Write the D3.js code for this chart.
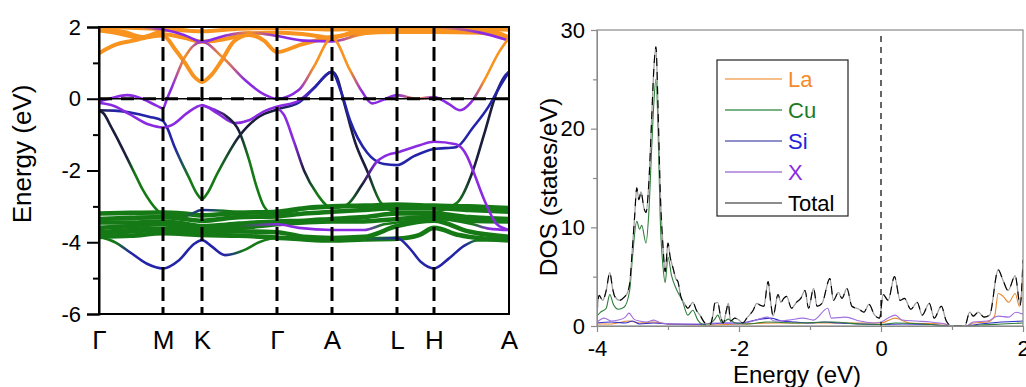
<!DOCTYPE html>
<html><head><meta charset="utf-8">
<script src="https://cdn.jsdelivr.net/npm/d3@7"></script>
<style>body{margin:0;background:#fff}svg{display:block}text{font-family:"Liberation Sans",Arial,sans-serif}</style>
</head><body><svg id="c" width="1026" height="387"></svg>
<script>
// ---------- band structure data ----------
const kPos = [0,64,103,178,233,298,335,410];
const kLabels = ['Γ','M','K','Γ','A','L','H','A'];
const eTicks = [-6,-4,-2,0,2];
const eMinor = [-5,-3,-1,1];

// La-dominated conduction bands [k, E]
const bandsLa = [
 [[0,1.27],[16,1.5],[34,1.62],[50,1.72],[64,1.76],[76,1.38],[86,1.0],[95,0.62],[103,0.47],[112,0.65],[123,1.08],[135,1.6],[150,1.78],[165,1.62],[178,1.3],[201,1.5],[233,1.72],[260,1.82],[298,1.86],[335,1.86],[380,1.84],[410,1.72]],
 [[0,1.95],[25,1.86],[45,1.72],[64,1.8],[85,1.7],[103,1.59],[125,1.66],[150,1.8],[178,1.85],[205,1.8],[233,1.7],[260,1.9],[298,1.95],[335,1.95],[390,1.9],[410,1.7]],
 [[0,2.02],[30,1.98],[64,1.94],[103,1.88],[140,1.95],[178,1.97],[233,1.93],[298,1.99],[335,1.99],[410,1.92]],
 [[0,1.9],[20,1.82],[40,1.7],[64,1.9],[103,2.05],[178,2.05],[233,2.08],[410,2.08]]
];
// Cu-d flat bands [k, E]
const bandsCu = [
 [[0,-3.2],[32,-3.18],[64,-3.17],[85,-3.2],[103,-3.25],[140,-3.18],[178,-3.15],[205,-3.05],[233,-3.0],[265,-2.98],[298,-2.95],[335,-2.98],[370,-3.0],[410,-3.05]],
 [[0,-3.35],[32,-3.32],[64,-3.3],[85,-3.35],[103,-3.4],[140,-3.3],[178,-3.28],[205,-3.2],[233,-3.15],[265,-3.1],[298,-3.05],[335,-3.05],[370,-3.1],[410,-3.15]],
 [[0,-3.45],[32,-3.45],[64,-3.42],[85,-3.48],[103,-3.55],[140,-3.48],[178,-3.42],[205,-3.4],[233,-3.35],[265,-3.3],[298,-3.2],[335,-3.2],[370,-3.3],[410,-3.35]],
 [[0,-3.6],[32,-3.55],[64,-3.5],[85,-3.6],[103,-3.65],[140,-3.6],[178,-3.5],[205,-3.45],[233,-3.42],[265,-3.42],[298,-3.35],[335,-3.3],[370,-3.4],[410,-3.42]],
 [[0,-3.75],[32,-3.7],[64,-3.65],[85,-3.7],[103,-3.72],[140,-3.7],[178,-3.72],[205,-3.85],[233,-3.88],[265,-3.85],[298,-3.55],[335,-3.4],[370,-3.7],[410,-3.85]],
 [[0,-3.85],[32,-3.82],[64,-3.75],[103,-3.8],[140,-3.82],[178,-3.87],[205,-3.92],[233,-3.95],[265,-3.92],[298,-3.9],[320,-3.8],[335,-3.6],[360,-3.8],[410,-3.95]]
];
// mixed-character bands [k, E, dominant character]
const bandsMix = [
 [[0,2.1,'o'],[40,2.0,'o'],[64,1.93,'p'],[85,1.78,'p'],[103,1.59,'p'],[125,1.75,'p'],[150,1.85,'o'],[178,1.75,'p'],[205,1.62,'p'],[233,1.6,'p'],[260,1.78,'o'],[298,1.97,'o'],[335,1.99,'o'],[380,1.85,'p'],[410,1.62,'p']],
 [[0,-0.08,'p'],[14,0.03,'p'],[28,0.1,'p'],[45,-0.02,'p'],[58,-0.2,'p'],[64,-0.27,'p'],[68,0.0,'p'],[73,0.33,'p'],[86,1.17,'o'],[103,1.59,'p'],[123,1.17,'o'],[146,0.52,'p'],[165,0.12,'p'],[178,0.0,'p'],[200,0.25,'p'],[215,0.9,'o'],[233,1.7,'o'],[251,0.8,'o'],[263,0.2,'p'],[273,-0.13,'p'],[285,-0.02,'p'],[298,0.1,'p'],[318,0.0,'o'],[335,0.05,'p'],[350,-0.15,'p'],[361,-0.32,'p'],[372,-0.1,'p'],[385,0.5,'o'],[400,1.3,'o'],[410,1.7,'o']],
 [[0,-0.32,'k'],[15,-0.33,'b'],[30,-0.38,'b'],[50,-0.5,'b'],[64,-0.62,'b'],[68,-0.8,'b'],[75,-1.3,'b'],[90,-2.2,'g'],[98,-2.65,'g'],[103,-2.8,'g'],[108,-2.65,'g'],[118,-2.1,'g'],[140,-1.05,'k'],[160,-0.5,'k'],[178,-0.3,'k'],[200,-0.1,'b'],[215,0.3,'b'],[233,0.75,'b'],[238,0.6,'k'],[245,-0.1,'k'],[256,-1.2,'k'],[268,-2.0,'k'],[282,-2.9,'g'],[298,-3.15,'g'],[335,-3.15,'g'],[358,-2.9,'g'],[374,-2.0,'k'],[385,-1.0,'k'],[398,0.2,'k'],[405,0.6,'b'],[410,0.75,'b']],
 [[0,-0.12,'p'],[15,-0.2,'p'],[30,-0.42,'p'],[50,-0.72,'p'],[64,-0.8,'p'],[75,-0.7,'p'],[88,-0.4,'p'],[103,-0.18,'p'],[118,-0.4,'p'],[136,-0.68,'p'],[150,-0.6,'p'],[165,-0.35,'p'],[178,-0.22,'p'],[200,-0.05,'p'],[215,0.3,'b'],[233,0.75,'b'],[242,0.2,'b'],[251,-0.6,'b'],[268,-1.5,'b'],[285,-1.82,'b'],[298,-1.85,'b'],[315,-1.6,'b'],[335,-1.4,'b'],[357,-1.35,'b'],[374,-0.8,'b'],[390,-0.2,'b'],[400,0.3,'b'],[410,0.75,'b']],
 [[0,-0.32,'k'],[5,-0.42,'k'],[12,-0.78,'k'],[20,-1.2,'k'],[28,-1.65,'k'],[36,-2.1,'g'],[44,-2.55,'g'],[52,-2.9,'g'],[58,-3.1,'g'],[64,-3.22,'g'],[85,-3.28,'g'],[103,-3.1,'b'],[125,-3.12,'g'],[150,-3.18,'g'],[178,-3.22,'g'],[205,-3.08,'g'],[233,-3.03,'g'],[265,-3.0,'g'],[298,-3.0,'g'],[335,-2.98,'g'],[370,-3.02,'g'],[410,-3.05,'g']],
 [[103,-0.18,'p'],[115,-0.3,'p'],[128,-0.5,'k'],[140,-0.9,'k'],[150,-1.7,'g'],[157,-2.4,'g'],[165,-3.0,'g'],[178,-3.3,'g']],
 [[178,-0.25,'p'],[185,-0.45,'p'],[195,-1.2,'p'],[205,-2.0,'k'],[218,-2.65,'g'],[233,-3.05,'g'],[248,-2.95,'g'],[263,-2.4,'k'],[278,-1.75,'p'],[290,-1.55,'p'],[298,-1.5,'p'],[320,-1.3,'p'],[335,-1.2,'p'],[357,-1.27,'p'],[368,-1.6,'p'],[374,-2.0,'p'],[385,-2.8,'p'],[398,-3.5,'p'],[410,-3.66,'p']],
 [[0,-3.7,'g'],[64,-3.6,'g'],[103,-3.62,'g'],[140,-3.55,'g'],[178,-3.5,'p'],[200,-3.6,'p'],[233,-3.66,'p'],[265,-3.66,'p'],[285,-3.5,'g'],[298,-3.45,'g'],[335,-3.35,'g'],[374,-3.5,'g'],[390,-3.62,'p'],[410,-3.66,'p']],
 [[0,-3.85,'g'],[16,-4.0,'g'],[32,-4.3,'b'],[48,-4.6,'b'],[64,-4.73,'b'],[80,-4.5,'b'],[95,-4.05,'b'],[103,-3.94,'b'],[112,-4.1,'b'],[126,-4.36,'b'],[145,-4.22,'g'],[160,-4.0,'g'],[178,-3.88,'g'],[205,-3.9,'g'],[233,-3.94,'g'],[265,-3.92,'g'],[298,-3.88,'b'],[310,-4.15,'b'],[322,-4.55,'b'],[335,-4.73,'b'],[350,-4.45,'b'],[365,-4.1,'b'],[378,-3.95,'g'],[410,-3.94,'g']]
];

// ---------- DOS data [E, states/eV] ----------
const dosYTicks = [0,10,20,30], dosYMinor = [5,15,25];
const dosXTicks = [-4,-2,0,2], dosXMinor = [-3,-1,1];
const legendNames = ['La','Cu','Si','X','Total'];
const dosTotal = [[-4.0,1.3],[-3.97,3.1],[-3.92,2.6],[-3.87,3.6],[-3.82,5.4],[-3.78,3.8],[-3.75,3.0],[-3.68,2.6],[-3.62,2.9],[-3.57,3.4],[-3.54,4.3],[-3.5,8.0],[-3.47,11.1],[-3.44,14.0],[-3.41,12.8],[-3.38,13.6],[-3.34,12.0],[-3.31,11.5],[-3.27,14.5],[-3.23,21],[-3.2,26],[-3.17,28.3],[-3.14,22],[-3.11,13.8],[-3.07,8],[-3.04,5.5],[-3.0,8.4],[-2.97,7.0],[-2.93,5.9],[-2.89,4.8],[-2.86,4.5],[-2.82,3.0],[-2.77,2.3],[-2.72,1.8],[-2.65,2.4],[-2.6,1.6],[-2.55,1.1],[-2.48,0.3],[-2.41,0.1],[-2.37,1.0],[-2.34,2.3],[-2.3,2.4],[-2.26,1.0],[-2.22,0.3],[-2.18,1.5],[-2.15,2.3],[-2.12,0.5],[-2.06,0.8],[-2.0,0.6],[-1.95,0.3],[-1.88,0.9],[-1.8,1.6],[-1.75,2.3],[-1.7,2.1],[-1.65,2.0],[-1.59,4.5],[-1.55,2.2],[-1.52,1.0],[-1.45,3.2],[-1.41,2.4],[-1.37,2.8],[-1.33,3.0],[-1.26,1.8],[-1.19,2.4],[-1.13,2.8],[-1.07,3.6],[-1.02,1.8],[-0.95,3.8],[-0.9,2.0],[-0.83,2.3],[-0.72,4.8],[-0.67,2.6],[-0.6,3.4],[-0.55,2.8],[-0.48,3.8],[-0.41,2.0],[-0.31,1.7],[-0.24,1.4],[-0.17,2.2],[-0.09,1.1],[-0.02,0.8],[0.03,3.2],[0.1,2.6],[0.19,5.0],[0.27,2.6],[0.33,2.8],[0.42,1.7],[0.51,2.4],[0.58,1.1],[0.68,2.3],[0.75,0.8],[0.85,2.0],[0.92,0.5],[1.0,0],[1.18,0],[1.25,1.4],[1.3,1.0],[1.37,1.4],[1.45,0.9],[1.53,1.1],[1.65,5.7],[1.72,4.6],[1.79,3.6],[1.89,5.1],[1.96,2.1],[2.0,6.7]];
const dosCu = [[-4.0,1.0],[-3.95,1.4],[-3.87,1.8],[-3.82,3.2],[-3.77,2.2],[-3.7,1.7],[-3.62,1.9],[-3.54,3.6],[-3.5,7.0],[-3.44,10.6],[-3.4,9.8],[-3.37,10.2],[-3.31,8.4],[-3.27,11.5],[-3.23,18],[-3.2,22.5],[-3.17,25],[-3.14,20],[-3.11,11],[-3.07,6],[-3.04,4.4],[-3.0,7.0],[-2.95,5.1],[-2.88,3.7],[-2.8,2.6],[-2.72,1.1],[-2.65,1.6],[-2.58,0.6],[-2.48,0.1],[-2.4,0.3],[-2.34,0.7],[-2.3,1.1],[-2.24,0.3],[-2.15,0.7],[-2.05,0.3],[-1.9,0.2],[-1.6,0.4],[-1.2,0.3],[-0.7,0.4],[-0.3,0.2],[0.0,0.15],[0.2,0.3],[0.6,0.2],[1.0,0.0],[1.2,0.0],[1.4,0.1],[1.7,0.2],[2.0,0.3]];
const dosX = [[-4.0,0.4],[-3.9,0.8],[-3.8,0.5],[-3.7,0.6],[-3.6,0.9],[-3.55,1.3],[-3.48,0.7],[-3.4,0.5],[-3.3,0.4],[-3.2,0.6],[-3.1,0.3],[-2.9,0.2],[-2.6,0.2],[-2.3,0.3],[-2.0,0.2],[-1.8,0.5],[-1.6,0.9],[-1.5,0.5],[-1.3,0.6],[-1.1,0.8],[-0.95,0.6],[-0.75,1.8],[-0.7,0.8],[-0.5,0.9],[-0.3,0.5],[-0.1,0.3],[0.0,0.4],[0.1,0.8],[0.2,1.1],[0.3,0.6],[0.5,0.5],[0.7,0.4],[0.9,0.2],[1.0,0],[1.2,0],[1.3,0.4],[1.5,0.5],[1.65,1.0],[1.8,0.9],[1.9,1.4],[2.0,1.2]];
const dosLa = [[-4,0.2],[-3.8,0.2],[-3.55,0.5],[-3.4,0.3],[-3.2,0.4],[-3.0,0.2],[-2.5,0.1],[-2.0,0.2],[-1.5,0.3],[-1.0,0.3],[-0.5,0.3],[0.0,0.3],[0.2,0.8],[0.4,0.3],[0.9,0.2],[1.0,0],[1.2,0],[1.3,0.3],[1.5,0.4],[1.6,1.0],[1.65,3.3],[1.72,3.0],[1.8,2.4],[1.89,3.3],[1.95,2.0],[2.0,5.0]];
const dosSi = [[-4,0.3],[-3.8,0.4],[-3.6,0.3],[-3.5,0.5],[-3.4,0.2],[-3.2,0.3],[-3.0,0.2],[-2.5,0.15],[-2.2,0.3],[-2.0,0.3],[-1.7,0.7],[-1.55,0.8],[-1.4,0.5],[-1.2,0.4],[-1.0,0.3],[-0.8,0.4],[-0.6,0.3],[-0.3,0.2],[0.0,0.15],[0.3,0.2],[0.7,0.15],[1.0,0],[1.2,0],[1.4,0.2],[1.7,0.4],[2.0,0.5]];

// ---------- drawing ----------
const svg = d3.select('#c');
const defs = svg.append('defs');
const col = {o:'#f7931e', g:'#157a15', b:'#2424a8', p:'#8a2be2', k:'#1c1c3c'};

const xB = d3.scaleLinear().domain([0,410]).range([99,509]);
const yB = d3.scaleLinear().domain([-6,2]).range([314,27]);
defs.append('clipPath').attr('id','cb').append('rect')
  .attr('x',xB(0)).attr('y',yB(2)).attr('width',xB(410)-xB(0)).attr('height',yB(-6)-yB(2));
const bLine = d3.line().x(d=>xB(d[0])).y(d=>yB(d[1])).curve(d3.curveMonotoneX);
const gB = svg.append('g').attr('clip-path','url(#cb)');
let gid = 0;
function drawBand(b, def, w){
  const id = 'bg'+(gid++);
  const lg = defs.append('linearGradient').attr('id',id).attr('gradientUnits','userSpaceOnUse')
    .attr('x1',xB(0)).attr('x2',xB(410)).attr('y1',0).attr('y2',0);
  b.forEach(p=>lg.append('stop').attr('offset',p[0]/410).attr('stop-color',col[p[2]||def]));
  gB.append('path').attr('d',bLine(b)).attr('fill','none')
    .attr('stroke',`url(#${id})`).attr('stroke-width',w).attr('stroke-linecap','round');
}
bandsCu.forEach(b=>drawBand(b,'g',4.6));
bandsLa.forEach(b=>drawBand(b,'o',4));
bandsMix.forEach(b=>drawBand(b,'p',2.6));

// high-symmetry dashed lines
svg.append('g').selectAll('line').data(kPos.slice(1,-1)).join('line')
  .attr('x1',d=>xB(d)).attr('x2',d=>xB(d)).attr('y1',yB(2)).attr('y2',yB(-6))
  .attr('stroke','#000').attr('stroke-width',3).attr('stroke-dasharray','14,6');
// Fermi level
svg.append('line').attr('x1',xB(0)).attr('x2',xB(410)).attr('y1',yB(0)).attr('y2',yB(0))
  .attr('stroke','#000').attr('stroke-width',1.3);
svg.append('line').attr('x1',xB(0)).attr('x2',xB(410)).attr('y1',yB(0)).attr('y2',yB(0))
  .attr('stroke','#000').attr('stroke-width',3).attr('stroke-dasharray','13,9');
// frame
svg.append('rect').attr('x',xB(0)).attr('y',yB(2)).attr('width',xB(410)-xB(0)).attr('height',yB(-6)-yB(2))
  .attr('fill','none').attr('stroke','#000').attr('stroke-width',2);
// y axis
const ay = svg.append('g').attr('transform',`translate(${xB(0)},0)`)
  .call(d3.axisLeft(yB).tickValues(eTicks).tickSize(12).tickPadding(6).tickFormat(d=>String(d)));
ay.select('.domain').attr('stroke-width',2);
ay.selectAll('.tick line').attr('stroke-width',2);
ay.selectAll('text').attr('font-size',22).attr('fill','#000').attr('font-family','"Liberation Sans",Arial,sans-serif');
const ay2 = svg.append('g').attr('transform',`translate(${xB(0)},0)`)
  .call(d3.axisLeft(yB).tickValues(eMinor).tickSize(6).tickFormat(''));
ay2.select('.domain').remove();
ay2.selectAll('.tick line').attr('stroke-width',2);
// k labels
const ax = svg.append('g').attr('transform',`translate(0,${yB(-6)})`)
  .call(d3.axisBottom(xB).tickValues(kPos).tickSize(0).tickPadding(17).tickFormat((d,i)=>kLabels[i]));
ax.select('.domain').remove();
ax.selectAll('text').attr('font-size',26).attr('fill','#000')
  .attr('font-family',(d,i)=>kLabels[i]==='Γ'?'"Liberation Serif","DejaVu Serif",serif':'"Liberation Sans",Arial,sans-serif');
svg.append('text').attr('transform','translate(31,154) rotate(-90)').attr('text-anchor','middle')
  .attr('font-size',26).text('Energy (eV)');

// ---------- DOS panel ----------
const xD = d3.scaleLinear().domain([-4,2]).range([597,1023]);
const yD = d3.scaleLinear().domain([0,30]).range([326,30]);
defs.append('clipPath').attr('id','cd').append('rect')
  .attr('x',xD(-4)).attr('y',yD(30)).attr('width',xD(2)-xD(-4)).attr('height',yD(0)-yD(30));
const dLine = d3.line().x(d=>xD(d[0])).y(d=>yD(d[1])).curve(d3.curveMonotoneX);
const gD = svg.append('g').attr('clip-path','url(#cd)');
const dosSeries = [[dosLa,'#e8862e'],[dosSi,'#3030c8'],[dosX,'#a070e0'],[dosCu,'#2e7d3a']];
dosSeries.forEach(([d,c])=>gD.append('path').attr('d',dLine(d)).attr('fill','none').attr('stroke',c).attr('stroke-width',1.1));
gD.append('path').attr('d',dLine(dosTotal)).attr('fill','none').attr('stroke','#a0a0a0').attr('stroke-width',1.3);
gD.append('path').attr('d',dLine(dosTotal)).attr('fill','none').attr('stroke','#000').attr('stroke-width',1.1).attr('stroke-dasharray','8,6');
// Fermi dashed
svg.append('line').attr('x1',xD(0)).attr('x2',xD(0)).attr('y1',36).attr('y2',yD(0))
  .attr('stroke','#000').attr('stroke-width',1.2).attr('stroke-dasharray','6,5');
// frame
svg.append('rect').attr('x',xD(-4)).attr('y',yD(30)).attr('width',xD(2)-xD(-4)).attr('height',yD(0)-yD(30))
  .attr('fill','none').attr('stroke','#8a8a8a').attr('stroke-width',1.2);
const dy = svg.append('g').attr('transform',`translate(${xD(-4)},0)`)
  .call(d3.axisLeft(yD).tickValues(dosYTicks).tickSize(6).tickPadding(6).tickFormat(d=>String(d)));
dy.select('.domain').attr('stroke','#8a8a8a');
dy.selectAll('.tick line').attr('stroke','#8a8a8a').attr('stroke-width',1.2);
dy.selectAll('text').attr('font-size',22).attr('fill','#000');
const dy2 = svg.append('g').attr('transform',`translate(${xD(-4)},0)`)
  .call(d3.axisLeft(yD).tickValues(dosYMinor).tickSize(4).tickFormat(''));
dy2.select('.domain').remove();
dy2.selectAll('.tick line').attr('stroke','#8a8a8a').attr('stroke-width',1.2);
const dx = svg.append('g').attr('transform',`translate(0,${yD(0)})`)
  .call(d3.axisBottom(xD).tickValues(dosXTicks).tickSize(6).tickPadding(8).tickFormat(d=>String(d)));
dx.select('.domain').attr('stroke','#8a8a8a');
dx.selectAll('.tick line').attr('stroke','#8a8a8a').attr('stroke-width',1.2);
dx.selectAll('text').attr('font-size',22).attr('fill','#000');
const dx2 = svg.append('g').attr('transform',`translate(0,${yD(0)})`)
  .call(d3.axisBottom(xD).tickValues(dosXMinor).tickSize(4).tickFormat(''));
dx2.select('.domain').remove();
dx2.selectAll('.tick line').attr('stroke','#8a8a8a').attr('stroke-width',1.2);
svg.append('text').attr('transform','translate(557,187) rotate(-90)').attr('text-anchor','middle')
  .attr('font-size',24.5).text('DOS (states/eV)');
svg.append('text').attr('x',797).attr('y',383).attr('text-anchor','middle')
  .attr('font-size',24).text('Energy (eV)');

// legend
const legLine = ['#f2a860','#4c9a5c','#6a6ab8','#a77bd8','#666'];
const legText = ['#f58a2a','#1c7a24','#2222dd','#8a2be2','#000'];
const lg = svg.append('g');
lg.append('rect').attr('x',717).attr('y',60).attr('width',131).attr('height',156)
  .attr('fill','#fff').attr('stroke','#222').attr('stroke-width',1.2);
legendNames.forEach((n,i)=>{
  const y = 79 + i*31;
  lg.append('line').attr('x1',725).attr('x2',782).attr('y1',y).attr('y2',y).attr('stroke',legLine[i]).attr('stroke-width',1.5);
  lg.append('text').attr('x',788).attr('y',y+8).attr('font-size',22).attr('fill',legText[i]).text(n);
});
</script></body></html>
